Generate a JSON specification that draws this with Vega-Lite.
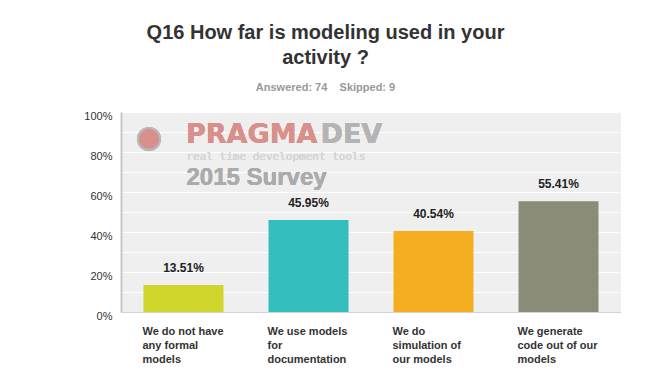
{
  "$schema": "https://vega.github.io/schema/vega-lite/v6.json",
  "width": 500,
  "height": 200,
  "padding": {"left": 83, "top": 23, "right": 0, "bottom": 0},
  "background": "#ffffff",
  "title": {
    "text": ["Q16 How far is modeling used in your", "activity ?"],
    "subtitle": "Answered: 74\u00a0\u00a0\u00a0\u00a0Skipped: 9",
    "anchor": "middle",
    "dx": -45.5,
    "font": "Liberation Sans",
    "fontSize": 20,
    "fontWeight": "bold",
    "color": "#333333",
    "lineHeight": 25,
    "subtitleFont": "Liberation Sans",
    "subtitleFontSize": 11,
    "subtitleFontWeight": "bold",
    "subtitleColor": "#999999",
    "subtitlePadding": 14,
    "offset": 17
  },
  "config": {
    "view": {"fill": "#efefef", "stroke": null},
    "font": "Liberation Sans"
  },
  "data": {
    "values": [
      {"answer": "We do not have|any formal|models", "share": 0.1351},
      {"answer": "We use models|for|documentation", "share": 0.4595},
      {"answer": "We do|simulation of|our models", "share": 0.4054},
      {"answer": "We generate|code out of our|models", "share": 0.5541}
    ]
  },
  "encoding": {
    "x": {
      "field": "answer",
      "type": "nominal",
      "sort": null,
      "scale": {"paddingInner": 0.36, "paddingOuter": 0.18},
      "axis": {
        "title": null,
        "labelAngle": 0,
        "labelExpr": "split(datum.label, '|')",
        "labelAlign": "left",
        "labelBaseline": "top",
        "labelOffset": -41,
        "labelPadding": 13,
        "labelFont": "Liberation Sans",
        "labelFontSize": 11,
        "labelFontWeight": "bold",
        "labelColor": "#333333",
        "labelLineHeight": 14,
        "ticks": false,
        "domainColor": "#d4d4d4",
        "domainWidth": 1
      }
    },
    "y": {
      "type": "quantitative",
      "scale": {"domain": [0, 1]},
      "axis": {
        "title": null,
        "values": [0, 0.1, 0.2, 0.3, 0.4, 0.5, 0.6, 0.7, 0.8, 0.9, 1],
        "format": ".0%",
        "labelExpr": "round(datum.value * 10) % 2 == 0 ? datum.label : ''",
        "labelFont": "Liberation Sans",
        "labelFontSize": 11,
        "labelColor": "#333333",
        "labelPadding": 9,
        "labelBaseline": "top",
        "labelOffset": -2,
        "ticks": false,
        "grid": true,
        "gridColor": "#ffffff",
        "gridWidth": 1,
        "domainColor": "#c8c8c8",
        "domainWidth": 2
      }
    }
  },
  "layer": [
    {
      "mark": {"type": "text", "font": "DejaVu Sans", "fontWeight": "bold", "fontSize": 27, "align": "left", "baseline": "middle", "dx": 2.5, "color": "#d9908a", "opacity": 0.9},
      "encoding": {"x": {"datum": "We do not have|any formal|models"}, "y": {"datum": 0.885}, "text": {"value": "PRAGMA"}}
    },
    {
      "mark": {"type": "text", "font": "DejaVu Sans", "fontWeight": "bold", "fontSize": 27, "align": "left", "baseline": "middle", "dx": 137, "color": "#b4b4b4", "opacity": 0.9},
      "encoding": {"x": {"datum": "We do not have|any formal|models"}, "y": {"datum": 0.885}, "text": {"value": "DEV"}}
    },
    {
      "mark": {"type": "text", "font": "DejaVu Sans Mono", "fontSize": 11, "align": "left", "baseline": "middle", "dx": 3, "color": "#d6d6d6"},
      "encoding": {"x": {"datum": "We do not have|any formal|models"}, "y": {"datum": 0.775}, "text": {"value": "real time development tools"}}
    },
    {
      "mark": {"type": "text", "font": "Liberation Sans", "fontWeight": "bold", "fontSize": 24, "align": "left", "baseline": "middle", "dx": 3, "color": "#ababab"},
      "encoding": {"x": {"datum": "We do not have|any formal|models"}, "y": {"datum": 0.67}, "text": {"value": "2015 Survey"}}
    },
    {
      "mark": {"type": "point", "shape": "circle", "filled": true, "size": 480, "color": "#d9908a", "stroke": "#b8b8b8", "strokeWidth": 2, "xOffset": -34.5, "opacity": 0.9},
      "encoding": {"x": {"datum": "We do not have|any formal|models"}, "y": {"datum": 0.865}}
    },
    {
      "mark": {"type": "bar"},
      "encoding": {
        "y": {"field": "share"},
        "color": {
          "field": "answer",
          "type": "nominal",
          "sort": null,
          "scale": {"range": ["#cfd52a", "#33bdbd", "#f5ae20", "#8a8b79"]},
          "legend": null
        }
      }
    },
    {
      "mark": {"type": "text", "font": "Liberation Sans", "fontWeight": "bold", "fontSize": 12, "baseline": "alphabetic", "dy": -13, "color": "#222222"},
      "encoding": {
        "y": {"field": "share"},
        "text": {"field": "share", "type": "quantitative", "format": ".2%"}
      }
    }
  ]
}
